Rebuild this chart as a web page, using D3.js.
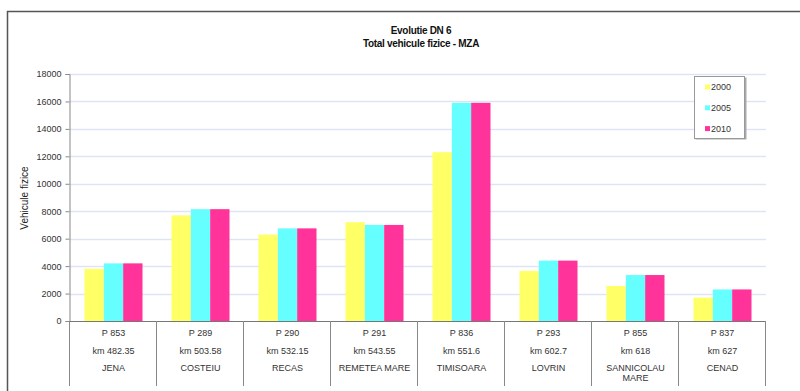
<!DOCTYPE html>
<html>
<head>
<meta charset="utf-8">
<script src="https://cdn.jsdelivr.net/npm/d3@7"></script>
<style>
  html, body { margin: 0; padding: 0; background: #fff; }
  svg { display: block; font-family: "Liberation Sans", Arial, sans-serif; }
</style>
</head>
<body>
<svg id="chart" width="800" height="391"></svg>
<script>
// Measuring points along DN 6
const codes = ["P 853", "P 289", "P 290", "P 291", "P 836", "P 293", "P 855", "P 837"];
const kms = ["km 482.35", "km 503.58", "km 532.15", "km 543.55", "km 551.6", "km 602.7", "km 618", "km 627"];
const places = ["JENA", "COSTEIU", "RECAS", "REMETEA MARE", "TIMISOARA", "LOVRIN", "SANNICOLAU MARE", "CENAD"];

// Total physical vehicles (MZA) per census year
const years = ["2000", "2005", "2010"];
const v2000 = [3800, 7700, 6300, 7200, 12300, 3650, 2550, 1700];
const v2005 = [4200, 8150, 6750, 7000, 15900, 4400, 3350, 2300];
const v2010 = [4200, 8150, 6750, 7000, 15900, 4400, 3350, 2300];
const seriesValues = [v2000, v2005, v2010];
const colors = ["#ffff66", "#66ffff", "#ff3399"];

const yTicks = [0, 2000, 4000, 6000, 8000, 10000, 12000, 14000, 16000, 18000];

const svg = d3.select("#chart");
const plot = { left: 70, right: 766, top: 74, bottom: 321 };

// outer frame
svg.append("path")
  .attr("d", "M7.5,391 V11.5 H800")
  .attr("fill", "none").attr("stroke", "#555").attr("stroke-width", 1.5);

// title
const title = svg.append("text").attr("x", 421).attr("text-anchor", "middle")
  .attr("font-weight", "bold").attr("font-size", 10).attr("fill", "#111")
  .attr("letter-spacing", -0.3);
title.append("tspan").attr("x", 421).attr("y", 34).text("Evolutie DN 6");
title.append("tspan").attr("x", 421).attr("y", 47).text("Total vehicule fizice - MZA");

const x0 = d3.scaleBand().domain(codes).range([plot.left, plot.right]).padding(0);
const y = d3.scaleLinear().domain([0, 18000]).range([plot.bottom, plot.top]);
const bw = x0.bandwidth();
const barW = bw / 4.5;
const x1 = d3.scaleBand().domain(years).range([bw / 6, bw / 6 + 3 * barW]).padding(0);

// gridlines
svg.append("g").selectAll("line").data(yTicks.filter(t => t > 0)).join("line")
  .attr("x1", plot.left).attr("x2", plot.right)
  .attr("y1", d => Math.round(y(d)) + 0.5).attr("y2", d => Math.round(y(d)) + 0.5)
  .attr("stroke", "#dde5f4").attr("stroke-width", 1.5);

// bars
const groups = svg.append("g").selectAll("g").data(codes).join("g")
  .attr("transform", d => `translate(${x0(d)},0)`);
groups.selectAll("rect")
  .data((d, i) => years.map((yr, s) => ({ yr, s, v: seriesValues[s][i] })))
  .join("rect")
  .attr("x", d => x1(d.yr)).attr("width", x1.bandwidth())
  .attr("y", d => y(d.v)).attr("height", d => y(0) - y(d.v))
  .attr("fill", d => colors[d.s]);

// y axis
const yAxis = svg.append("g").attr("transform", `translate(${plot.left - 0.5},0)`)
  .call(d3.axisLeft(y).tickValues(yTicks).tickSize(4).tickPadding(4).tickFormat(d3.format("d")));
yAxis.select(".domain").attr("stroke", "#888");
yAxis.selectAll(".tick line").attr("stroke", "#888");
yAxis.selectAll(".tick text").attr("font-size", 9).attr("fill", "#333")
  .attr("font-family", "Liberation Sans, Arial, sans-serif");

svg.append("text").attr("transform", "translate(28,198) rotate(-90)")
  .attr("text-anchor", "middle").attr("font-size", 10).attr("fill", "#222")
  .text("Vehicule fizice");

// x axis line and category separators
svg.append("line").attr("x1", plot.left).attr("x2", plot.right)
  .attr("y1", plot.bottom + 0.5).attr("y2", plot.bottom + 0.5)
  .attr("stroke", "#777").attr("stroke-width", 1);
const seps = codes.map(c => x0(c)).concat([plot.right]);
svg.append("g").selectAll("line").data(seps).join("line")
  .attr("x1", d => Math.round(d) - 0.5).attr("x2", d => Math.round(d) - 0.5)
  .attr("y1", plot.bottom).attr("y2", 386)
  .attr("stroke", "#888").attr("stroke-width", 1);

// category labels (three rows, wrapped when too wide)
const labels = svg.append("g").attr("font-size", 9).attr("fill", "#333").attr("text-anchor", "middle");
codes.forEach((c, i) => {
  const cx = x0(c) + bw / 2;
  labels.append("text").attr("x", cx).attr("y", 336).text(c);
  labels.append("text").attr("x", cx).attr("y", 354).text(kms[i]);
  const t = labels.append("text").attr("x", cx).attr("y", 371).text(places[i]);
  if (t.node().getComputedTextLength() > bw - 4) {
    const words = places[i].split(" ");
    t.text(null);
    words.forEach((w, k) => t.append("tspan").attr("x", cx).attr("dy", k === 0 ? 0 : 10).text(w));
  }
});

// legend
const lg = svg.append("g");
lg.append("rect").attr("x", 695.5).attr("y", 77.5).attr("width", 51).attr("height", 62)
  .attr("fill", "#aaa");
lg.append("rect").attr("x", 694.5).attr("y", 76.5).attr("width", 50).attr("height", 62)
  .attr("fill", "#fff").attr("stroke", "#999").attr("stroke-width", 1);
years.forEach((yr, s) => {
  const cy = 87 + s * 20.8;
  lg.append("rect").attr("x", 705).attr("y", cy - 2.5).attr("width", 5).attr("height", 5).attr("fill", colors[s]);
  lg.append("text").attr("x", 711).attr("y", cy + 3.3).attr("font-size", 9).attr("fill", "#333").text(yr);
});
</script>
</body>
</html>
